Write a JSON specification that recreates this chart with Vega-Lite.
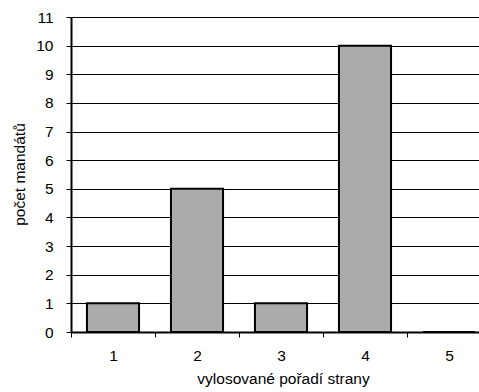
{
  "$schema": "https://vega.github.io/schema/vega-lite/v6.json",
  "autosize": {"type": "none"},
  "padding": {"left": 71, "top": 17, "right": 0, "bottom": 60},
  "width": 408,
  "height": 315,
  "background": "white",
  "data": {"values": [
    {"poradi": "1", "mandaty": 1},
    {"poradi": "2", "mandaty": 5},
    {"poradi": "3", "mandaty": 1},
    {"poradi": "4", "mandaty": 10},
    {"poradi": "5", "mandaty": 0}
  ]},
  "mark": {"type": "bar", "fill": "#ababab", "stroke": "black", "strokeWidth": 2, "width": {"band": 0.62}, "clip": false},
  "encoding": {
    "x": {
      "field": "poradi", "type": "ordinal",
      "scale": {"range": [0, 420], "paddingInner": 0, "paddingOuter": 0},
      "axis": {
        "title": "vylosované pořadí strany",
        "labelAngle": 0, "tickBand": "extent",
        "domainColor": "black", "domainWidth": 2,
        "tickColor": "black", "tickSize": 5, "tickWidth": 1,
        "labelFont": "Liberation Sans", "labelFontSize": 15.5, "labelColor": "black", "labelPadding": 11,
        "titleFont": "Liberation Sans", "titleFontSize": 15.5, "titleFontWeight": "normal", "titleColor": "black",
        "titleX": 212, "titleY": 51, "titleBaseline": "alphabetic", "titleAlign": "center", "grid": false
      }
    },
    "y": {
      "field": "mandaty", "type": "quantitative",
      "scale": {"domain": [0, 11], "nice": false},
      "axis": {
        "title": "počet mandátů",
        "values": [0,1,2,3,4,5,6,7,8,9,10,11],
        "grid": true, "gridColor": "black", "gridWidth": 1, "gridOpacity": 1,
        "domainColor": "black", "domainWidth": 2,
        "tickColor": "black", "tickSize": 5,
        "labelFont": "Liberation Sans", "labelFontSize": 15.5, "labelColor": "black", "labelPadding": 13,
        "titleFont": "Liberation Sans", "titleFontSize": 15.5, "titleFontWeight": "normal", "titleColor": "black",
        "titleX": -47, "titleY": 157, "titleAngle": 270, "titleBaseline": "alphabetic", "titleAlign": "center"
      }
    }
  },
  "config": {"view": {"stroke": null}}
}
